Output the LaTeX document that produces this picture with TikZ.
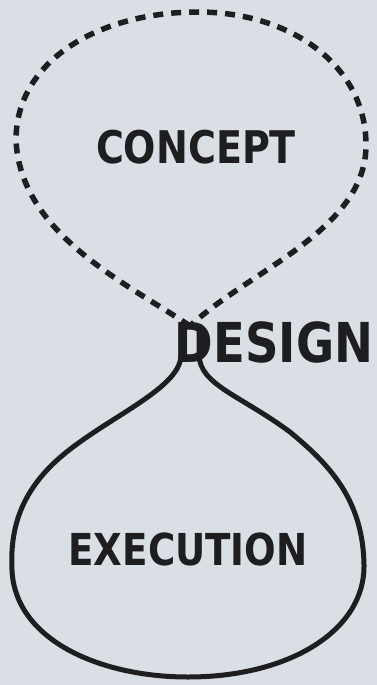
\documentclass[tikz,border=0pt]{standalone}
\usepackage{fontspec}
\setmainfont{DejaVu Sans Condensed}[FakeStretch=0.94]
\usepackage{tikz}
\definecolor{paper}{RGB}{218,222,229}
\definecolor{ink}{RGB}{30,30,32}

\begin{document}
\begin{tikzpicture}[x=1pt,y=-1pt,
  word/.style={text=ink,font=\bfseries,inner sep=0pt,anchor=center},
  loopline/.style={draw=ink,line width=5pt,line join=round},
  idea/.style={draw=ink,line width=5.5pt,dash pattern=on 10pt off 8pt}]
\fill[paper] (0,0) rectangle (377,685);
\useasboundingbox (0,0) rectangle (377,685);
\node[word,font=\bfseries\fontsize{45}{50}\selectfont] (concept) at (196,147) {CONCEPT};
\node[word,font=\bfseries\fontsize{55}{60}\selectfont] (design) at (274,342) {DESIGN};
\node[word,font=\bfseries\fontsize{44}{50}\selectfont] (execution) at (188,549) {EXECUTION};
\coordinate (neck) at (190,326);
\coordinate (neckl) at (181,324);
\coordinate (neckr) at (199,324);
% dashed upper loop
\draw[idea] (neck) .. controls (130,285) and (20,235) .. (16,140)
  .. controls (16,60) and (100,12) .. (198,12)
  .. controls (290,12) and (366,65) .. (366,145)
  .. controls (366,230) and (250,270) .. (neck);
% solid lower loop
\draw[loopline] (neckl) -- (181,355) .. controls (181,390) and (100,420) .. (55,462)
  .. controls (20,495) and (10,530) .. (12,570)
  .. controls (15,640) and (100,677) .. (188,677)
  .. controls (290,677) and (365,630) .. (364,565)
  .. controls (363,500) and (330,465) .. (290,432)
  .. controls (240,395) and (200,385) .. (199,355) -- (neckr);
\end{tikzpicture}
\end{document}
